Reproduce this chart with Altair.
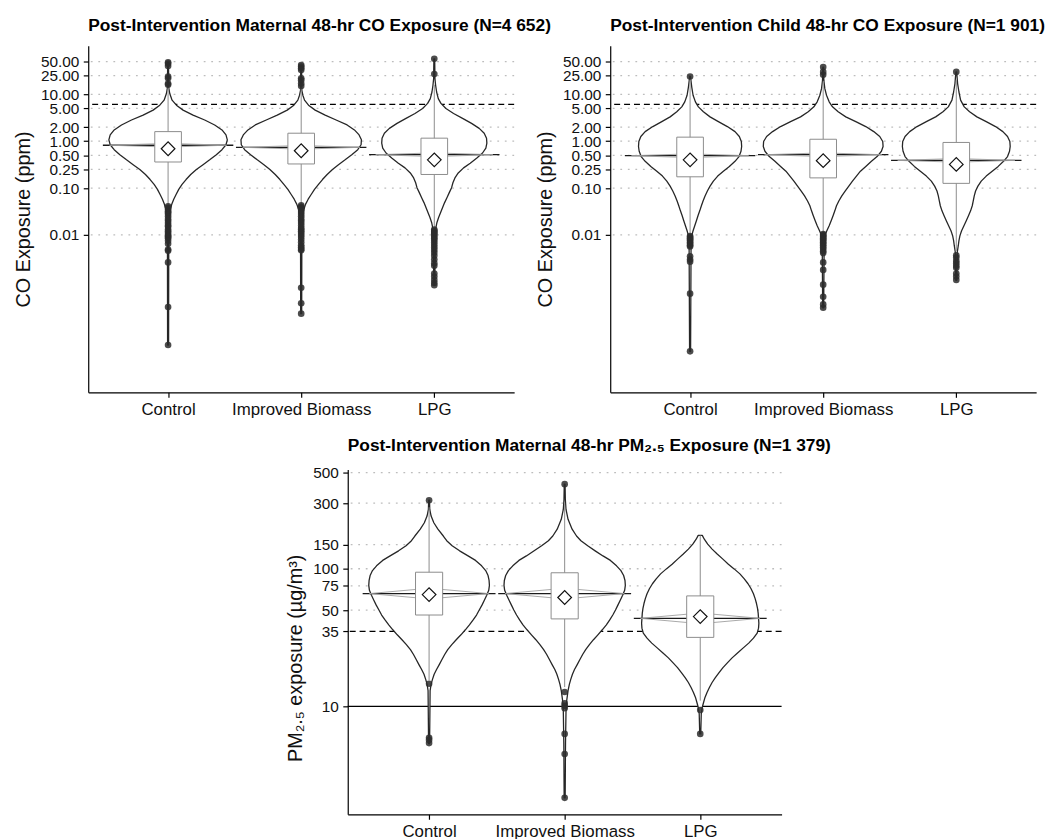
import altair as alt
import pandas as pd

FONT = "Liberation Sans"

groups = ["Control", "Improved Biomass", "LPG"]
positions = [1, 2, 3]

title_1 = "Post-Intervention Maternal 48-hr CO Exposure (N=4 652)"
title_2 = "Post-Intervention Child 48-hr CO Exposure (N=1 901)"
title_3 = "Post-Intervention Maternal 48-hr PM₂.₅ Exposure (N=1 379)"
ytitle_co = "CO Exposure (ppm)"
ytitle_pm = "PM₂.₅ exposure (µg/m³)"

co_ticks = [0.01, 0.10, 0.25, 0.50, 1.00, 2.00, 5.00, 10.00, 25.00, 50.00]
co_grid = [0.01, 0.10, 0.25, 0.50, 1.00, 2.00, 5.00, 10.00, 25.00, 50.00]
co_domain = [4.4e-6, 109]
co_ref_dashed = [6.1]

pm_ticks = [10, 35, 50, 75, 100, 150, 300, 500]
pm_grid = [50, 75, 100, 150, 300, 500]
pm_domain = [1.64, 526]
pm_ref_dashed = [35]
pm_ref_solid = [10]

# ---------------- Panel 1: maternal CO ----------------
# violin outline: value and relative density (180 = widest violin)
p1_ctrl_v = [48, 13.9, 10.4, 7.5, 5.87, 4.6, 3.61, 2.83, 2.22, 1.74, 1.36, 1.07, 0.84, 0.66, 0.515, 0.40,
             0.316, 0.25, 0.195, 0.152, 0.120, 0.094, 0.073, 0.058, 0.045, 0.035, 0.0277, 0.022, 0.0114, 4.5e-5]
p1_ctrl_d = [1.2, 2, 5, 12, 25, 45, 75, 110, 140, 162, 174, 178, 174, 162, 145, 125,
             105, 85, 68, 54, 42, 32, 24, 17, 11, 7, 4, 3, 2, 1.5]
p1_ib_v = [41, 12.2, 9.55, 7.5, 5.87, 4.6, 3.61, 2.83, 2.22, 1.74, 1.36, 1.07, 0.84, 0.66, 0.515, 0.40,
           0.316, 0.25, 0.195, 0.152, 0.120, 0.094, 0.073, 0.058, 0.045, 0.035, 0.0277, 0.022, 0.0114, 2.1e-4]
p1_ib_d = [1.2, 2, 5, 10, 22, 42, 72, 105, 138, 160, 174, 181, 180, 170, 152, 132,
           112, 94, 78, 64, 52, 40, 30, 21, 13, 8, 5, 3, 2, 1.5]
p1_lpg_v = [57, 21.5, 15.6, 11.2, 8.1, 6.4, 4.99, 3.9, 3.07, 2.40, 1.88, 1.48, 1.16, 0.91, 0.71, 0.56, 0.44,
            0.34, 0.27, 0.21, 0.165, 0.130, 0.102, 0.080, 0.0625, 0.049, 0.0384, 0.030, 0.0236, 0.0185,
            0.0145, 0.0114, 8.5e-4]
p1_lpg_d = [1.2, 2, 4, 7, 12, 20, 35, 58, 85, 112, 135, 150, 157, 158, 155, 145, 128,
            108, 88, 72, 62, 56, 52, 45, 38, 31, 25, 19, 13, 8,
            5, 3, 1.5]
p1_q1 = [0.36, 0.327, 0.195]
p1_med = [0.82, 0.74, 0.515]
p1_q3 = [1.60, 1.48, 1.16]
p1_mean = [0.69, 0.625, 0.40]
p1_wlo = [0.040, 0.042, 0.0135]
p1_whi = [14.5, 14.0, 16.0]
p1_ctrl_out = [48, 45, 40, 24, 22, 17, 16, 0.041, 0.038, 0.035, 0.032, 0.030, 0.028, 0.025, 0.022, 0.020,
               0.018, 0.016, 0.015, 0.013, 0.012, 0.011, 0.010, 0.0095, 0.009, 0.0085, 0.0075, 0.0065,
               0.0049, 0.0046, 0.0026, 0.00029, 0.000045]
p1_ib_out = [42, 39, 36, 33, 22, 20, 17, 15, 0.043, 0.040, 0.037, 0.034, 0.031, 0.028, 0.025, 0.022, 0.020,
             0.018, 0.016, 0.014, 0.013, 0.012, 0.011, 0.010, 0.009, 0.008, 0.007, 0.006, 0.0055, 0.005,
             0.0047, 0.00075, 0.00035, 0.00021]
p1_lpg_out = [57, 27, 0.0130, 0.0122, 0.0115, 0.0108, 0.0100, 0.0092, 0.0085, 0.0078, 0.0070, 0.0062,
              0.0055, 0.0048, 0.0042, 0.0036, 0.0030, 0.0025, 0.0022, 0.0015, 0.0013, 0.0011, 0.00095, 0.00085]

# ---------------- Panel 2: child CO ----------------
p2_ctrl_v = [24, 21.5, 14.3, 9.55, 6.9, 5.4, 4.25, 3.3, 2.61, 2.05, 1.60, 1.26, 0.985, 0.77, 0.61, 0.47,
             0.372, 0.29, 0.229, 0.18, 0.141, 0.110, 0.0865, 0.068, 0.0531, 0.042, 0.0327, 0.026, 0.0201,
             0.0157, 0.0123, 0.0097, 0.0076, 3.3e-5]
p2_ctrl_d = [1.2, 2, 5, 9, 16, 25, 40, 60, 85, 112, 135, 148, 154, 155, 153, 147,
             135, 118, 100, 83, 70, 60, 52, 45, 39, 34, 29, 24, 19,
             14, 9, 5, 3, 1.5]
p2_ib_v = [38, 19.8, 13.2, 9.55, 6.9, 5.4, 4.25, 3.3, 2.61, 2.05, 1.60, 1.26, 0.985, 0.77, 0.61, 0.47,
           0.372, 0.29, 0.229, 0.18, 0.141, 0.110, 0.0865, 0.068, 0.0531, 0.042, 0.0327, 0.026, 0.0201,
           0.0157, 0.0123, 0.0097, 0.0076, 2.8e-4]
p2_ib_d = [1.2, 2, 5, 10, 18, 28, 45, 68, 98, 128, 152, 170, 179, 180, 175, 162,
           145, 128, 112, 100, 88, 77, 66, 56, 47, 40, 35, 30, 24,
           18, 11, 5, 3, 1.5]
p2_lpg_v = [30, 25.3, 16.9, 11.2, 7.5, 5.4, 4.25, 3.3, 2.61, 2.05, 1.60, 1.26, 0.985, 0.77, 0.61, 0.47,
            0.372, 0.29, 0.229, 0.18, 0.141, 0.110, 0.0865, 0.068, 0.0531, 0.042, 0.0327, 0.026, 0.0201,
            0.0157, 0.0123, 0.0097, 0.0076, 0.0059, 0.0043, 0.00108]
p2_lpg_d = [1.2, 2, 4, 8, 13, 24, 40, 62, 90, 118, 140, 154, 161, 162, 160, 154,
            142, 126, 108, 90, 75, 65, 58, 54, 51, 48, 43, 37, 30,
            23, 16, 11, 8, 6, 3, 1.5]
p2_q1 = [0.174, 0.165, 0.126]
p2_med = [0.49, 0.515, 0.39]
p2_q3 = [1.22, 1.10, 0.94]
p2_mean = [0.40, 0.385, 0.32]
p2_wlo = [0.0098, 0.0108, 0.0045]
p2_whi = [21, 19, 20]
p2_ctrl_out = [24, 0.0095, 0.009, 0.0085, 0.008, 0.0075, 0.007, 0.0065, 0.006, 0.0057, 0.0035, 0.003,
               0.0027, 0.00056, 0.000033]
p2_ib_out = [38, 30, 26, 0.0105, 0.010, 0.0095, 0.009, 0.0085, 0.008, 0.0075, 0.007, 0.0065, 0.006,
             0.0055, 0.005, 0.0045, 0.0041, 0.0026, 0.0018, 0.00087, 0.00048, 0.00033, 0.00028]
p2_lpg_out = [30, 0.0037, 0.0033, 0.0028, 0.0025, 0.0022, 0.0020, 0.0015, 0.0013, 0.0011]

# ---------------- Panel 3: maternal PM2.5 ----------------
p3_ctrl_v = [315, 270, 241.5, 216, 194, 173, 160, 147, 135, 124, 115, 105, 97, 89.3, 82.2, 75.7, 69.7,
             64.2, 59.1, 54.4, 50.1, 46.1, 42.5, 39.1, 36.0, 33.1, 30.5, 28.1, 25.8, 23.8, 21.9, 20.1,
             18.5, 17.1, 15.7, 14.5, 13.0, 5.36]
p3_ctrl_d = [1.2, 2, 6, 14, 26, 42, 52, 68, 90, 115, 137, 155, 167, 174, 177, 178, 176,
             170, 163, 156, 148, 140, 130, 119, 107, 94, 80, 67, 55, 46, 38, 30,
             22, 15, 10, 6, 3, 1.5]
p3_ib_v = [412, 318, 270, 229, 194, 173, 160, 147, 135, 124, 115, 105, 97, 89.3, 82.2, 75.7, 69.7, 64.2,
           59.1, 54.4, 50.1, 46.1, 42.5, 39.1, 36.0, 33.1, 30.5, 28.1, 25.8, 23.8, 21.9, 20.1, 18.5,
           17.1, 15.7, 14.5, 13.0, 11.0, 9.3, 5.36, 2.16]
p3_ib_d = [1.2, 2, 4, 10, 22, 35, 48, 68, 90, 113, 135, 153, 166, 174, 178, 179, 177, 171,
           164, 157, 150, 142, 133, 123, 111, 98, 85, 73, 62, 53, 45, 37, 29,
           23, 18, 14, 10, 6, 4, 2.5, 1.5]
p3_lpg_v = [175, 164, 151, 139, 128, 118, 108, 99.8, 91.8, 84.5, 77.8, 71.6, 65.9, 60.7, 55.9, 51.5,
            47.4, 43.6, 40.2, 37.0, 34.0, 31.3, 28.8, 26.6, 24.4, 22.5, 20.7, 19.1, 17.5, 16.1, 14.9,
            13.7, 12.6, 11.6, 10.7, 9.84, 8.8, 6.3]
p3_lpg_d = [6, 12, 22, 35, 50, 66, 83, 100, 117, 130, 141, 150, 157, 162, 166, 169,
            171, 172, 173, 172, 168, 157, 143, 127, 110, 94, 80, 67, 55, 44, 35,
            27, 20, 14, 10, 6, 3, 1.5]
p3_q1 = [46.1, 43.2, 31.7]
p3_med = [66, 66, 43.6]
p3_q3 = [94.4, 93.5, 63.5]
p3_mean = [64.9, 61.8, 44.9]
p3_wlo = [15.5, 13.8, 11.0]
p3_whi = [280, 300, 175]
p3_ctrl_out = [315, 14.6, 5.9, 5.7, 5.4]
p3_ib_out = [412, 12.7, 10.5, 10.1, 9.7, 6.3, 4.5, 2.16]
p3_lpg_out = [9.4, 6.3]

# ---------------- helpers ----------------
LABEL_EXPR = " : ".join(f"datum.value == {p} ? '{g}'" for p, g in zip(positions[:-1], groups[:-1])) \
    + f" : '{groups[-1]}'"
XSCALE = alt.Scale(domain=[0.4, 3.6], nice=False, zero=False)
XAXIS = alt.Axis(values=positions, labelExpr=LABEL_EXPR, title=None, grid=False, labelFontSize=17,
                 labelPadding=4, tickSize=5, labelOverlap=False, labelFlush=False)


def X(f):
    return alt.X(f, type="quantitative", scale=XSCALE, axis=XAXIS)


def make_Y(domain, ticks, fmt, title, title_y=None):
    scale = alt.Scale(type="log", domain=domain, nice=False)
    kw = dict(values=ticks, format=fmt, title=title, grid=False, labelPadding=4.5, titlePadding=7,
              labelFontSize=15.5, titleFontSize=20, labelOverlap=False, tickSize=5)
    if title_y is not None:
        kw["titleY"] = title_y
    axis = alt.Axis(**kw)

    def Y(f):
        return alt.Y(f, type="quantitative", scale=scale, axis=axis)
    return Y


def panel(violins, q1, med, q3, mean, wlo, whi, outs, domain, ticks, grid, fmt, ytitle, title,
          dashed, solid, width, height, title_y=None):
    Y = make_Y(domain, ticks, fmt, ytitle, title_y)
    # closed violin outline: left side top->bottom, then right side bottom->top
    vrows = []
    for g, p, (vals, dens) in zip(groups, positions, violins):
        assert len(vals) == len(dens)
        pts = sorted(zip(vals, dens), key=lambda t: -t[0])
        k = 0
        for v, d in pts:
            vrows.append({"group": g, "pos": p, "v": v, "d": d, "side": -1, "ord": k})
            k += 1
        for v, d in reversed(pts):
            vrows.append({"group": g, "pos": p, "v": v, "d": d, "side": 1, "ord": k})
            k += 1
    vdf = pd.DataFrame(vrows)
    sdf = pd.DataFrame({"group": groups, "pos": positions, "q1": q1, "med": med, "q3": q3,
                        "mean": mean, "wlo": wlo, "whi": whi})
    orows = [{"group": g, "pos": p, "v": v} for g, p, vals in zip(groups, positions, outs) for v in vals]
    odf = pd.DataFrame(orows)
    lrows = []
    for g, p, m in zip(groups, positions, med):
        for side, f in (("u", 10 ** 0.03), ("l", 10 ** -0.03)):
            for k, (dx, ff) in enumerate([(-0.44, 1.0), (-0.1, f), (0.1, f), (0.44, 1.0)]):
                lrows.append({"path": g + side, "ord": k, "x": p + dx, "y": m * ff})
    ldf = pd.DataFrame(lrows)

    layers = [
        alt.Chart(pd.DataFrame({"g": grid})).mark_rule(
            color="#bdbdbd", strokeDash=[1.8, 5.8], strokeWidth=1.3).encode(y=Y("g")),
        alt.Chart(pd.DataFrame({"r": dashed})).mark_rule(
            color="black", strokeDash=[6, 4], strokeWidth=1.3).encode(y=Y("r")),
    ]
    if solid:
        layers.append(alt.Chart(pd.DataFrame({"r": solid})).mark_rule(
            color="black", strokeWidth=1.3).encode(y=Y("r")))
    layers += [
        alt.Chart(vdf).transform_calculate(
            vx="datum.pos + datum.side * 0.45 * datum.d / 180"
        ).mark_line(interpolate="linear-closed", fill="white", stroke="#262626", strokeWidth=1.3,
                    strokeJoin="round").encode(
            y=Y("v"), x=X("vx"), detail="group:N", order=alt.Order("ord:Q")),
        alt.Chart(sdf).mark_rule(color="#8c8c8c", strokeWidth=1).encode(
            x=X("pos"), y=Y("wlo"), y2=alt.Y2("whi")),
        alt.Chart(sdf).transform_calculate(ml="datum.pos - 0.49", mr="datum.pos + 0.49").mark_rule(
            color="#1a1a1a", strokeWidth=1.3).encode(x=X("ml"), x2=alt.X2("mr"), y=Y("med")),
        alt.Chart(ldf).mark_line(color="#9e9e9e", strokeWidth=0.9).encode(
            x=X("x"), y=Y("y"), detail="path:N", order=alt.Order("ord:Q")),
        alt.Chart(sdf).transform_calculate(bl="datum.pos - 0.1", br="datum.pos + 0.1").mark_rect(
            fill="white", stroke="#8c8c8c", strokeWidth=1).encode(
            x=X("bl"), x2=alt.X2("br"), y=Y("q1"), y2=alt.Y2("q3")),
        alt.Chart(sdf).mark_point(shape="diamond", filled=True, fill="white", stroke="#111111",
                                  strokeWidth=1.2, size=190, opacity=1).encode(x=X("pos"), y=Y("mean")),
        alt.Chart(odf).mark_circle(size=45, color="#2d2d2d", opacity=0.85).encode(x=X("pos"), y=Y("v")),
    ]
    return alt.layer(*layers).properties(
        width=width, height=height,
        title=alt.TitleParams(title, anchor="start", frame="group", fontSize=17.5, fontWeight="bold",
                              font=FONT, offset=11, color="black"))


p1 = panel([(p1_ctrl_v, p1_ctrl_d), (p1_ib_v, p1_ib_d), (p1_lpg_v, p1_lpg_d)],
           p1_q1, p1_med, p1_q3, p1_mean, p1_wlo, p1_whi, [p1_ctrl_out, p1_ib_out, p1_lpg_out],
           co_domain, co_ticks, co_grid, ".2f", ytitle_co, title_1, co_ref_dashed, [], 430, 350)
p2 = panel([(p2_ctrl_v, p2_ctrl_d), (p2_ib_v, p2_ib_d), (p2_lpg_v, p2_lpg_d)],
           p2_q1, p2_med, p2_q3, p2_mean, p2_wlo, p2_whi, [p2_ctrl_out, p2_ib_out, p2_lpg_out],
           co_domain, co_ticks, co_grid, ".2f", ytitle_co, title_2, co_ref_dashed, [], 430, 350)
p3 = panel([(p3_ctrl_v, p3_ctrl_d), (p3_ib_v, p3_ib_d), (p3_lpg_v, p3_lpg_d)],
           p3_q1, p3_med, p3_q3, p3_mean, p3_wlo, p3_whi, [p3_ctrl_out, p3_ib_out, p3_lpg_out],
           pm_domain, pm_ticks, pm_grid, "d", ytitle_pm, title_3, pm_ref_dashed, pm_ref_solid, 438, 348,
           title_y=190)

SPACER_W = 200
spacer = alt.Chart(pd.DataFrame({"s": [0]})).mark_rule(opacity=0).encode(
    x=alt.value(0), x2=alt.value(SPACER_W), y=alt.value(0)).properties(width=SPACER_W, height=10)

row1 = alt.hconcat(p1, p2, spacing=97, bounds="flush")
row2 = alt.hconcat(spacer, p3, spacing=262 - SPACER_W, bounds="flush")

chart = alt.vconcat(row1, row2, spacing=20).configure(font=FONT).configure_view(
    stroke=None).configure_axis(
    domainColor="black", domainWidth=1.2, tickColor="black", tickWidth=1.2,
    labelColor="#111111", titleColor="#111111", labelFont=FONT, titleFont=FONT,
    titleFontWeight="normal")

chart.save("out.html", embed_options={"renderer": "svg", "actions": False})
